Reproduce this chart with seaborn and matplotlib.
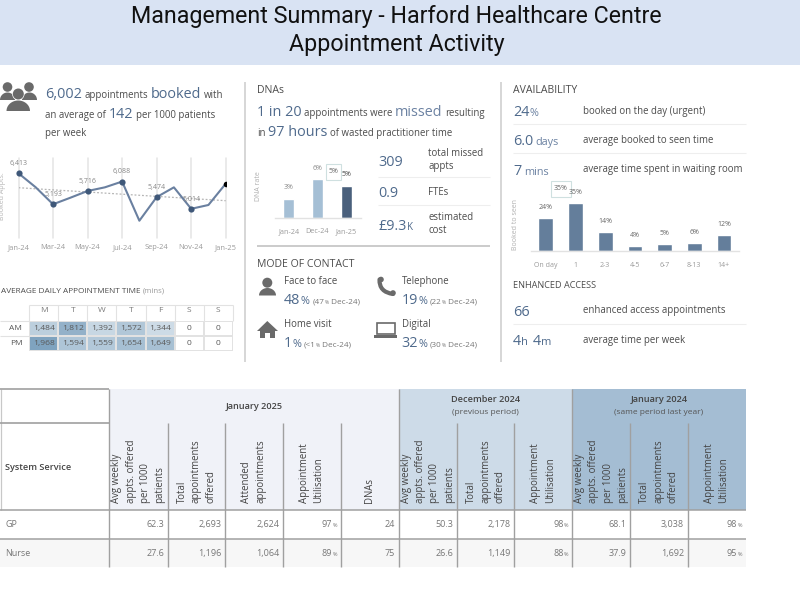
import numpy as np
import pandas as pd
import matplotlib
matplotlib.use("Agg")
import matplotlib.pyplot as plt
from matplotlib.colors import LinearSegmentedColormap
from matplotlib.patches import Circle, Polygon, Rectangle, PathPatch
from matplotlib.path import Path
import seaborn as sns

# ---------- data ----------
months = ["Jan-24", "Feb-24", "Mar-24", "Apr-24", "May-24", "Jun-24", "Jul-24",
          "Aug-24", "Sep-24", "Oct-24", "Nov-24", "Dec-24", "Jan-25"]
booked = [6413, 5860, 5193, 5450, 5716, 5860, 6088, 4545, 5474, 5860, 5014, 5165, 6002]
trend_ends = [5846, 5334]
dna_periods = ["Jan-24", "Dec-24", "Jan-25"]
dna_rate = [3, 6, 5]
wait_bins = ["On day", "1", "2-3", "4-5", "6-7", "8-13", "14+"]
wait_share = [24, 35, 14, 4, 5, 6, 12]
week_days = ["M", "T", "W", "T", "F", "S", "S"]
session_names = ["AM", "PM"]
am_times = [1484, 1812, 1392, 1572, 1344, 0, 0]
pm_times = [1968, 1594, 1559, 1654, 1649, 0, 0]
services = ["GP", "Nurse"]
col_heads = ["Avg weekly\nappts. offered\nper 1000\npatients", "Total\nappointments\noffered",
             "Attended\nappointments", "Appointment\nUtilisation", "DNAs",
             "Avg weekly\nappts. offered\nper 1000\npatients", "Total\nappointments\noffered",
             "Appointment\nUtilisation",
             "Avg weekly\nappts. offered\nper 1000\npatients", "Total\nappointments\noffered",
             "Appointment\nUtilisation"]
gp_row = ["62.3", "2,693", "2,624", "97%", "24", "50.3", "2,178", "98%", "68.1", "3,038", "98%"]
nurse_row = ["27.6", "1,196", "1,064", "89%", "75", "26.6", "1,149", "88%", "37.9", "1,692", "95%"]

# ---------- style ----------
sns.set_theme(style="white")
plt.rcParams["font.family"] = ["Open Sans", "DejaVu Sans"]
BLUE, BODY, GREY, ICON = "#4f6a8c", "#4c4c4c", "#9a9a9a", "#6a6a6a"
BIG, MID, SMALL = 10.4, 6.9, 5.0

fig = plt.figure(figsize=(8, 6), dpi=100, facecolor="white")
ov = fig.add_axes([0, 0, 1, 1], zorder=0)
ov.set_xlim(0, 800)
ov.set_ylim(600, 0)
ov.axis("off")


def px_axes(x0, y0, x1, y1):
    ax = fig.add_axes([x0 / 800, 1 - y1 / 600, (x1 - x0) / 800, (y1 - y0) / 600], zorder=2)
    ax.patch.set_alpha(0)
    return ax


def hline(y, x0, x1, color="#eeeeee", lw=0.8):
    ov.plot([x0, x1], [y, y], color=color, lw=lw, solid_capstyle="butt")


def vline(x, y0, y1, color="#cccccc", lw=1.1):
    ov.plot([x, x], [y0, y1], color=color, lw=lw, solid_capstyle="butt")


def rich(x, y, runs, gap=2.6, right=False):
    rend = fig.canvas.get_renderer()
    items = []
    for s, size, col, *w in runs:
        t = ov.text(x, y, s, fontsize=size, color=col, va="baseline", ha="left",
                    fontweight=w[0] if w else "normal")
        items.append((t, t.get_window_extent(rend).width))
    if right:
        x -= sum(i[1] for i in items) + gap * (len(items) - 1)
    for t, wid in items:
        t.set_x(x)
        x += wid + gap


def tip(x0, y0, x1, y1, label):
    ov.add_patch(Rectangle((x0, y0), x1 - x0, y1 - y0, fc="white", ec="#cfe0e0", lw=0.8, zorder=6))
    ov.text((x0 + x1) / 2, (y0 + y1) / 2, label, fontsize=SMALL, color="#666666",
            ha="center", va="center", zorder=7)


# ---------- banner ----------
ov.add_patch(Rectangle((0, 0), 800, 64.5, fc="#d9e3f3", ec="none"))
ov.text(396.5, 23, "Management Summary - Harford Healthcare Centre", family="Roboto",
        fontsize=16.75, color="#111111", ha="center", va="baseline")
ov.text(396.5, 50.5, "Appointment Activity", family="Roboto",
        fontsize=16.75, color="#111111", ha="center", va="baseline")

vline(244.5, 82, 362)
vline(501, 82, 362)

# ---------- booked panel ----------
rich(45, 98, [("6,002", BIG, BLUE), ("appointments", MID, BODY), ("booked", BIG, BLUE), ("with", MID, BODY)])
rich(45, 118, [("an average of", MID, BODY), ("142", BIG, BLUE), ("per 1000 patients", MID, BODY)])
rich(45, 136, [("per week", MID, BODY)])


def half_ellipse(x0, x1, y_base, y_top, color):
    t = np.linspace(np.pi, 2 * np.pi, 30)
    xs = (x0 + x1) / 2 + (x1 - x0) / 2 * np.cos(t)
    ys = y_base + (y_base - y_top) * np.sin(t)
    ov.add_patch(Polygon(np.column_stack([xs, ys]), fc=color, ec="none"))


for cx, cy, r in [(7.5, 87, 4.8), (29, 87, 4.8)]:
    ov.add_patch(Circle((cx, cy), r, fc=ICON, ec="none"))
half_ellipse(0, 15, 100, 92.5, ICON)
half_ellipse(22, 37, 100, 92.5, ICON)
ov.add_patch(Circle((18.3, 94), 6.2, fc="white", ec="none"))
ov.add_patch(Circle((18.3, 94), 5.5, fc=ICON, ec="none"))
half_ellipse(6.5, 30, 111, 100.5, ICON)

line_df = pd.DataFrame({"idx": range(len(months)), "month": months, "booked": booked})
ax = px_axes(18.5, 158, 225.7, 238)
ax.set_xlim(0, 12)
ax.set_ylim(3864, 7016)
tick_idx = line_df["idx"][::2]
for i in tick_idx:
    ax.axvline(i, color="#e4e4e4", lw=1.1, zorder=0, clip_on=False)
ax.plot([0, 12], trend_ends, color="#b5b5b5", lw=0.9, ls=(0, (1.5, 1.5)), zorder=1)
sns.lineplot(data=line_df, x="idx", y="booked", color="#6a80a0", lw=1.5, ax=ax, zorder=2, clip_on=False)
marked = line_df.iloc[:-1:2]
sns.scatterplot(data=marked, x="idx", y="booked", color="#3f5879", s=20, linewidth=0, ax=ax, zorder=3, clip_on=False)
sns.scatterplot(data=line_df.iloc[[-1]], x="idx", y="booked", color="black", s=16, linewidth=0, ax=ax, zorder=4)
for _, r in marked.iterrows():
    ax.annotate(f"{r['booked']:,}", (r["idx"], r["booked"]), xytext=(0, 7), textcoords="offset points",
                ha="center", va="center", fontsize=SMALL, color="#888888", annotation_clip=False)
ax.set_xticks(list(tick_idx), list(line_df["month"][::2]))
ax.set_yticks([])
ax.set_xlabel("")
ax.set_ylabel("")
ax.tick_params(axis="x", length=0, pad=4.5, labelsize=5.4, labelcolor=GREY)
sns.despine(ax=ax, left=True, bottom=True)
ov.text(3, 196, "Booked Appts.", rotation=90, fontsize=SMALL, color="#b5b5b5", ha="center", va="center")

# ---------- heat map ----------
rich(1, 292.7, [("AVERAGE DAILY APPOINTMENT TIME", 5.95, BODY), ("(mins)", 5.6, GREY)])
heat = pd.DataFrame([am_times, pm_times], index=session_names, columns=range(7))
ax = px_axes(29.3, 320.7, 232.7, 351)
cmap = LinearSegmentedColormap.from_list("heat", ["#ffffff", "#7fa3bf"])
sns.heatmap(heat, ax=ax, cmap=cmap, vmin=950, vmax=1968, cbar=False, annot=True, fmt=",d",
            annot_kws={"fontsize": 6.1, "color": "#5a5a5a"}, linewidths=1.1, linecolor="#e2e2e2",
            xticklabels=week_days, yticklabels=session_names)
ax.xaxis.tick_top()
ax.tick_params(axis="both", length=0, labelsize=6, labelcolor="#7a7a7a")
ax.tick_params(axis="x", pad=4.5, labelrotation=0)
ax.tick_params(axis="y", pad=5, labelrotation=0, labelcolor="#555555")
for k in range(8):
    vline(29.3 + k * 29.06, 304.7, 320.7, "#e2e2e2", 0.8)
hline(304.7, 29.3, 232.7, "#e2e2e2", 0.8)
hline(335.7, 0, 29.3, "#e2e2e2", 0.8)
hline(320.7, 0, 29.3, "#e2e2e2", 0.8)

# ---------- DNA panel ----------
rich(257, 92.7, [("DNAs", 7.6, BODY)])
rich(257, 116, [("1 in 20", BIG, BLUE), ("appointments were", MID, BODY), ("missed", BIG, "#6c82a2"), ("resulting", MID, BODY)])
rich(257, 136, [("in", MID, BODY), ("97 hours", BIG, BLUE), ("of wasted practitioner time", MID, BODY)])
dna_df = pd.DataFrame({"period": dna_periods, "rate": dna_rate})
ax = px_axes(274.5, 158, 360.5, 218.3)
sns.barplot(data=dna_df, x="period", y="rate", hue="period", legend=False, width=0.385, ax=ax,
            palette=["#a5bfd5", "#a5bfd5", "#4a607c"], saturation=1)
ax.set_ylim(0, 60.3 / 6.5)
ax.set_xlim(-0.5, 2.5)
ax.set_yticks([])
ax.set_xlabel("")
ax.set_ylabel("")
ax.tick_params(axis="x", length=0, pad=7, labelsize=5.2, labelcolor=GREY)
sns.despine(ax=ax, left=True)
ax.spines["bottom"].set_color("#e2e2e2")
ax.spines["bottom"].set_linewidth(1)
for i, v in enumerate(dna_rate):
    ax.annotate(f"{v}%", (i, v), xytext=(0, 8), textcoords="offset points", ha="center", va="center",
                fontsize=SMALL, color="#8a8a8a" if i < 2 else "#444444", annotation_clip=False)
ov.text(259, 186, "DNA rate", rotation=90, fontsize=SMALL, color="#b0b0b0", ha="center", va="center")
tip(326.3, 163.7, 341, 180, "5%")

rich(378.3, 166, [("309", BIG, BLUE)])
rich(428.3, 156, [("total missed", MID, BODY)])
rich(428.3, 169, [("appts", MID, BODY)])
hline(176.7, 378, 489.7)
rich(378.3, 197, [("0.9", BIG, BLUE)])
rich(428.3, 195, [("FTEs", MID, BODY)])
hline(205, 378, 489.7)
rich(378.3, 230, [("£9.3", BIG, BLUE), ("K", 7, BLUE)], gap=0.5)
rich(428.3, 220, [("estimated", MID, BODY)])
rich(428.3, 233, [("cost", MID, BODY)])
hline(246, 257, 489.5, "#bdbdbd", 1.1)

# ---------- mode of contact ----------
rich(257, 267, [("MODE OF CONTACT", 7.6, BODY)])
modes = [(283.7, 284.3, "Face to face", "48", "(47", " Dec-24)", 312.3),
         (401.7, 284.3, "Telephone", "19", "(22", " Dec-24)", 430),
         (283.7, 327.3, "Home visit", "1", "(<1", " Dec-24)", 304),
         (401.7, 327.3, "Digital", "32", "(30", " Dec-24)", 430)]
for x, y, name, pct, prev, tail, xp in modes:
    rich(x, y, [(name, MID, BODY)])
    rich(x, y + 20, [(pct, BIG, BLUE), ("%", 7.8, BLUE)], gap=0.2)
    rich(xp, y + 19.6, [(prev, 5.9, "#777777"), ("%", 3.6, "#777777"), (tail, 5.9, "#777777")], gap=0.2)

ov.add_patch(Circle((267.3, 282.7), 5, fc=ICON, ec="none"))
half_ellipse(259, 276, 295.5, 288, ICON)
ov.add_patch(Polygon([(267.3, 321), (257, 331), (260, 331), (260, 338), (265, 338), (265, 333),
                      (270, 333), (270, 338), (275, 338), (275, 331), (278, 331)], fc=ICON, ec="none"))
ov.add_patch(Rectangle((376.5, 323), 18.5, 11, fc="none", ec=ICON, lw=1.2))
ov.add_patch(Rectangle((374, 335), 23, 2.6, fc=ICON, ec="none"))
phone = Path([(379.5, 279.5), (379, 292), (393, 294)], [Path.MOVETO, Path.CURVE3, Path.CURVE3])
ov.add_patch(PathPatch(phone, fc="none", ec=ICON, lw=3, capstyle="round"))
ov.add_patch(Circle((381, 279.5), 2.8, fc=ICON, ec="none"))
ov.add_patch(Circle((393, 293), 2.8, fc=ICON, ec="none"))

# ---------- availability ----------
rich(513, 92.7, [("AVAILABILITY", 7.6, BODY)])
avail = [(116, 114, "24", "%", "booked on the day (urgent)"),
         (145.3, 143, "6.0", "days", "average booked to seen time"),
         (174.7, 172.3, "7", "mins", "average time spent in waiting room")]
for yb, yl, num, unit, lab in avail:
    rich(513, yb, [(num, BIG, BLUE), (unit, 7.8, "#6c82a2")], gap=0.6 if unit == "%" else 2.5)
    rich(582.7, yl, [(lab, MID, BODY)])
hline(124.3, 513, 746)
hline(153.3, 513, 746)

wait_df = pd.DataFrame({"bin": wait_bins, "share": wait_share})
ax = px_axes(531, 190, 738.7, 251.3)
sns.barplot(data=wait_df, x="bin", y="share", color="#647e9b", width=0.495, ax=ax, saturation=1)
ax.set_xlim(-0.5, 6.5)
ax.set_ylim(0, 61.3 / 1.39)
ax.set_yticks([])
ax.set_xlabel("")
ax.set_ylabel("")
ax.tick_params(axis="x", length=0, pad=7.5, labelsize=SMALL, labelcolor=GREY)
sns.despine(ax=ax, left=True)
ax.spines["bottom"].set_color("#e2e2e2")
ax.spines["bottom"].set_linewidth(1)
for i, v in enumerate(wait_share):
    ax.annotate(f"{v}%", (i, v), xytext=(0, 7.5), textcoords="offset points", ha="center", va="center",
                fontsize=SMALL, color="#666666", annotation_clip=False)
ov.text(515.3, 224, "Booked to seen", rotation=90, fontsize=SMALL, color="#b0b0b0", ha="center", va="center")
tip(551.3, 180.7, 570.7, 197.3, "35%")

rich(513, 288, [("ENHANCED ACCESS", 6.6, BODY)])
rich(513, 316, [("66", BIG, BLUE)])
rich(582.7, 313.3, [("enhanced access appointments", MID, BODY)])
hline(324.3, 513, 746)
rich(513, 345, [("4", BIG, BLUE), ("h", 8, BLUE)], gap=0.3)
rich(532.3, 345, [("4", BIG, BLUE), ("m", 8, BLUE)], gap=0.3)
rich(582.7, 342.7, [("average time per week", MID, BODY)])

# ---------- table ----------
edges = [109.3, 167.7, 225.3, 283, 340.7, 398.7, 456.7, 514.3, 572, 630, 687.7, 745.7]
top, mid, head_bot, row1, row2 = 388.7, 422.7, 510.3, 538.7, 566.7
for x0, x1, col in [(109.3, 398.7, "#f0f2f8"), (398.7, 572, "#cddbe8"), (572, 745.7, "#a4bdd3")]:
    ov.add_patch(Rectangle((x0, top), x1 - x0, head_bot - top, fc=col, ec="none"))
ov.add_patch(Rectangle((0, row1), 745.7, row2 - row1, fc="#f7f7f7", ec="none"))
LINE = "#a0a0a0"
for x in edges[:-1]:
    vline(x, top if x in (109.3, 398.7, 572) else mid, row2, LINE, 1.0)
vline(0.5, top, head_bot, "#c8c8c8", 0.9)
hline(top, 0, 109.3, LINE, 1.2)
hline(mid, 0, 109.3, LINE, 1.2)
hline(head_bot, 0, 745.7, LINE, 1.1)
hline(row1, 0, 745.7, LINE, 1.1)
HEAD = "#444444"
ov.text(254, 406.7, "January 2025", fontsize=6.6, color=HEAD, ha="center", va="center", fontweight="semibold")
ov.text(485.3, 400, "December 2024", fontsize=6.6, color=HEAD, ha="center", va="center", fontweight="semibold")
ov.text(485.3, 413, "(previous period)", fontsize=6, color="#555555", ha="center", va="center")
ov.text(659, 400, "January 2024", fontsize=6.6, color=HEAD, ha="center", va="center", fontweight="semibold")
ov.text(659, 413, "(same period last year)", fontsize=6, color="#555555", ha="center", va="center")
ov.text(5, 467.3, "System Service", fontsize=6.6, color=HEAD, ha="left", va="center", fontweight="semibold")
for i, lab in enumerate(col_heads):
    ov.text((edges[i] + edges[i + 1]) / 2, 503, lab, rotation=90, fontsize=6.9, color=HEAD,
            ha="center", va="bottom", multialignment="left", linespacing=1.42)
for yc, name, row in [(524.3, services[0], gp_row), (553.3, services[1], nurse_row)]:
    ov.text(5, yc, name, fontsize=6.5, color="#777777", ha="left", va="center")
    for i, s in enumerate(row):
        xr = edges[i + 1] - 3.7
        if s.endswith("%"):
            rich(xr, yc + 3, [(s[:-1], 6.5, "#777777"), ("%", 4, "#777777")], gap=0.2, right=True)
        else:
            rich(xr, yc + 3, [(s, 6.5, "#777777")], right=True)

fig.savefig("out.png", dpi=100)
